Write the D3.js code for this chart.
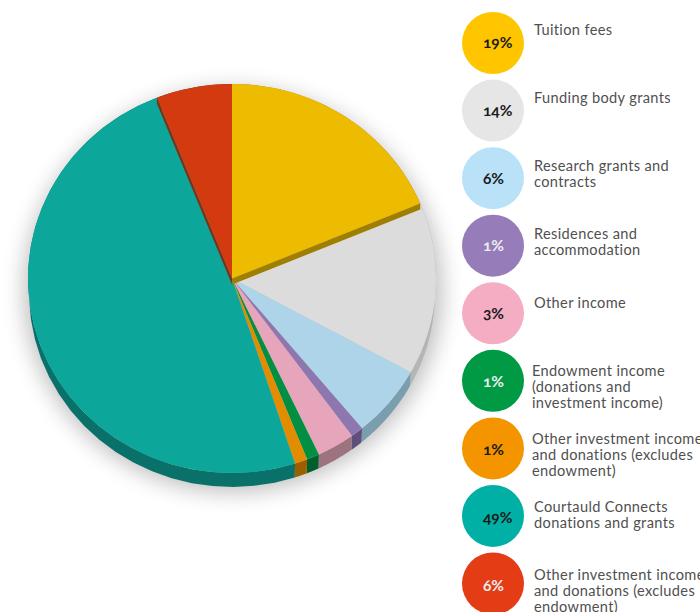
<!DOCTYPE html>
<html><head><meta charset="utf-8">
<style>html,body{margin:0;padding:0;background:#fff}svg{display:block}
.lab{font-family:Lato,sans-serif;font-size:14.6px;fill:#505050;letter-spacing:.35px}
.pct{font-family:Lato,sans-serif;font-size:15.5px;font-weight:700;font-feature-settings:"onum"}
</style>
<script src="https://cdn.jsdelivr.net/npm/d3@7"></script></head><body>
<svg id="c" width="700" height="612"></svg>
<script>
const values=[18.7,14.3,6,1,3,1,1,49,6];
const pctLabels=["19%","14%","6%","1%","3%","1%","1%","49%","6%"];
const labels=[["Tuition fees"],["Funding body grants"],["Research grants and","contracts"],["Residences and","accommodation"],["Other income"],["Endowment income","(donations and","investment income)"],["Other investment income","and donations (excludes","endowment)"],["Courtauld Connects","donations and grants"],["Other investment income","and donations (excludes","endowment)"]];
const topColors=["#EDBB00","#DCDCDC","#ADD4E8","#8E77AF","#E6A5BA","#008F43","#E28D00","#0CA69A","#D33A0F"];
const wallColors=["#A07E00","#B5B5B5","#7A9EAE","#5F4F7A","#9E7380","#005E2C","#9B5F00","#09716A","#7B3217"];
const legendColors=["#FFC600","#E6E6E6","#B9E1F8","#967CB8","#F5ADC4","#009A45","#F49500","#00B0A5","#E43C14"];
const pctColors=["#1a1a1a","#1a1a1a","#1a1a1a","#eee","#1a1a1a","#eee","#1a1a1a","#1a1a1a","#eee"];

const svg=d3.select("#c");
const cx=232,cy=278.5,rx=204,ry=194.5,depth=14,lift=6;
const pie=d3.pie().sort(null).value(d=>d)(values);
const pt=(a,rX,rY,dy=0)=>[cx+rX*Math.sin(a),cy-rY*Math.cos(a)+dy];

const defs=svg.append("defs");
defs.append("filter").attr("id","b").attr("x","-25%").attr("y","-25%").attr("width","150%").attr("height","150%")
  .append("feGaussianBlur").attr("stdDeviation",11);
svg.append("ellipse").attr("cx",cx+1).attr("cy",cy+12).attr("rx",rx+5).attr("ry",ry+7)
  .attr("fill","#000").attr("opacity",.25).attr("filter","url(#b)");

// side walls
const line=d3.line();
pie.forEach((p,i)=>{
  const up=d3.range(0,31).map(k=>pt(p.startAngle+(p.endAngle-p.startAngle)*k/30,rx,ry));
  const low=d3.range(30,-1,-1).map(k=>pt(p.startAngle+(p.endAngle-p.startAngle)*k/30,rx-1,ry,depth));
  svg.append("path").attr("d",line(up.concat(low))+"Z").attr("fill",wallColors[i]);
});
// top faces
const arc=d3.arc().innerRadius(0).outerRadius(rx);
const tops=svg.append("g").attr("transform",`translate(${cx},${cy}) scale(1,${ry/rx})`);
pie.forEach((p,i)=>{ if(i!==0&&i!==8) tops.append("path").attr("d",arc(p)).attr("fill",topColors[i]); });
// cut faces below the two raised slices
[[pie[0].endAngle,0],[pie[8].startAngle,8]].forEach(([a,i])=>{
  const e=pt(a,rx,ry);
  svg.append("path").attr("d",line([[cx,cy],e,[e[0],e[1]+lift],[cx,cy+lift]])+"Z").attr("fill",wallColors[i]);
});
[0,8].forEach(i=>tops.append("path").attr("d",arc(pie[i])).attr("fill",topColors[i]));

// legend
const y=d3.scalePoint().domain(d3.range(values.length)).range([43,583.5]);
const lg=svg.append("g");
values.forEach((v,i)=>{
  const c=y(i);
  lg.append("circle").attr("cx",493).attr("cy",c).attr("r",31).attr("fill",legendColors[i]);
  lg.append("text").attr("class","pct").attr("x",483).attr("y",c+5+i*0.25).attr("fill",pctColors[i]).text(pctLabels[i]);
  const tx=(i===5||i===6)?532:534;
  labels[i].forEach((t,j)=>lg.append("text").attr("class","lab").attr("x",tx)
    .attr("y",Math.round(c-8+i*0.6)+j*16).text(t));
});
</script></body></html>
